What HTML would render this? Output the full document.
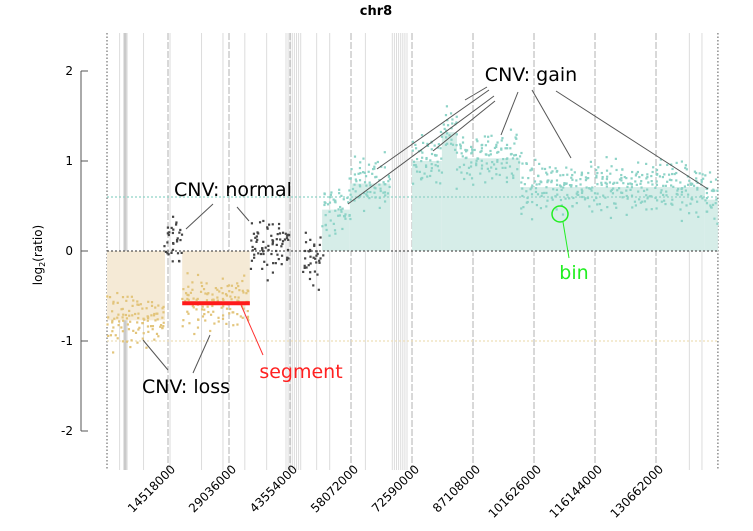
<!DOCTYPE html>
<html><head><meta charset="utf-8"><style>
html,body{margin:0;padding:0;background:#fff;}
svg{display:block;font-family:"DejaVu Sans","Liberation Sans",sans-serif;}
</style></head><body>
<svg id="chart" width="753" height="531" viewBox="0 0 753 531" xmlns="http://www.w3.org/2000/svg">
<text x="376" y="15" text-anchor="middle" font-size="13" font-weight="bold">chr8</text>
<text transform="translate(42,255) rotate(-90)" text-anchor="middle" font-size="12">log<tspan font-size="8" dy="3">2</tspan><tspan dy="-3">(ratio)</tspan></text>
<g id="gaps"></g>
<g id="ticks"></g>
<g id="fills"></g>
<g id="refs"></g>
<g id="points"></g>
<g id="yaxis"></g>
<g id="ann">
 <g stroke="#555" stroke-width="1">
  <line x1="487" y1="87" x2="465" y2="100"/><line x1="489" y1="90" x2="377" y2="169"/>
  <line x1="494" y1="96" x2="348" y2="204"/><line x1="495" y1="101" x2="433" y2="151"/>
  <line x1="518" y1="92" x2="501" y2="135"/><line x1="532" y1="90" x2="571" y2="158"/>
  <line x1="556" y1="91" x2="708" y2="189"/>
  <line x1="213" y1="204" x2="186" y2="229"/><line x1="237" y1="207" x2="249" y2="221"/>
  <line x1="143" y1="340" x2="168" y2="370"/><line x1="210" y1="335" x2="193" y2="373"/>
 </g>
 <text x="531" y="81" text-anchor="middle" font-size="19">CNV: gain</text>
 <text x="233" y="196" text-anchor="middle" font-size="19">CNV: normal</text>
 <text x="186" y="393" text-anchor="middle" font-size="19">CNV: loss</text>
 <line x1="241" y1="305" x2="263" y2="355" stroke="#ff3030" stroke-width="1"/>
 <text x="301" y="378" text-anchor="middle" font-size="19" fill="#ff2020">segment</text>
 <circle cx="560" cy="214" r="8" fill="none" stroke="#22ee22" stroke-width="1.5"/>
 <line x1="563" y1="222" x2="569" y2="258" stroke="#22ee22"/>
 <text x="574" y="279" text-anchor="middle" font-size="19" fill="#22ee22">bin</text>
</g>
</svg>
<script>
// data (Mb and log2 ratio)
const segStart=[0,13.8,17.9,34.0,46.6,51.2,57.8,72.6,79.7,83.3,98.3,142.3];
const segEnd=[13.8,17.9,34.0,43.6,51.2,57.8,67.4,79.7,83.3,98.3,142.3,145.4];
const segValue=[-0.77,0.1,-0.58,0.05,-0.1,0.46,0.75,1.0,1.32,1.03,0.71,0.57];
const segType=["loss","normal","loss","normal","normal","gain","gain","gain","gain","gain","gain","gain"];
const noise=[0.12,-0.08,0.2,-0.15,0.03,0.27,-0.22,0.09,-0.03,0.16,-0.3,0.05,0.22,-0.12,0.0,-0.19,0.14,0.31,-0.06,0.08,-0.25,0.18,-0.01,0.1,-0.14,0.24,-0.09,0.06,-0.35,0.13,0.02,-0.18,0.19,-0.05,0.28,-0.11,0.07,-0.21,0.15,-0.02,0.04,-0.27,0.11,0.21,-0.16];
const gapPos=[3.0,4.4,4.7,8.7,15.0,22.5,27.6,32.8,38.0,42.6,43.1,43.6,44.1,44.6,45.1,45.6,46.1,49.9,53.0,61.5,67.9,68.4,68.9,69.4,69.9,70.4,70.9,71.4,138.6,141.6];
const tickVals=[14518000,29036000,43554000,58072000,72590000,87108000,101626000,116144000,130662000];
const yTicks=[2,1,0,-1,-2];
const xMax=145.4;

const NS="http://www.w3.org/2000/svg";
const X0=107, PX=61/14.518;
const xs=v=>X0+v*PX;
const ys=v=>251-v*90;
function mk(tag,attrs,parent){const e=document.createElementNS(NS,tag);for(const k in attrs)e.setAttribute(k,attrs[k]);parent.appendChild(e);return e;}
const G=id=>document.getElementById(id);
const colors={loss:["#f5ead6","#e2c47a"],gain:["#d6ede8","#8dd3c7"],normal:[null,"#444"]};
gapPos.forEach((g,i)=>{const l=mk("line",{x1:xs(g),x2:xs(g),y1:33,y2:470,stroke:i==1?"#cacaca":"#dcdcdc","stroke-width":i==1?4:1},G("gaps"));

});
tickVals.forEach(t=>{const x=xs(t/1e6);
const l=mk("line",{x1:x,x2:x,y1:33,y2:470,stroke:"#666","stroke-width":0.5,"stroke-dasharray":"7,2"},G("ticks"));


const tx=mk("text",{x:x+8,y:470,"text-anchor":"end","font-size":12,transform:`rotate(-45 ${x+8} 470)`},G("ticks"));
tx.textContent=t;

});
[0,xMax].forEach(b=>{const l=mk("line",{x1:xs(b),x2:xs(b),y1:33,y2:470,stroke:"#555","stroke-dasharray":"1.5,2"},G("ticks"));

});
segStart.forEach((s,i)=>{const c=colors[segType[i]][0];if(!c)return;
const y0=ys(0),y1=ys(segValue[i]);
const r=mk("rect",{x:xs(s),y:Math.min(y0,y1),width:xs(segEnd[i])-xs(s),height:Math.abs(y1-y0),fill:c},G("fills"));

});
[[0,"#555"],[0.6,"#8fd3c6"],[-1,"#eedfb8"]].forEach(([v,c])=>{const l=mk("line",{x1:xs(0),x2:xs(xMax),y1:ys(v),y2:ys(v),stroke:c,"stroke-width":1.2,"stroke-dasharray":"2,2"},G("refs"));

});
let k=0;const L=noise.length;
segStart.forEach((s,i)=>{const c=colors[segType[i]][1];const w=xs(segEnd[i])-xs(s);const n=Math.round(w*1.8);
for(let j=0;j<n;j++){const a=noise[(k+Math.floor(k/L)*17)%L],b=noise[(k*7+Math.floor(k/L)*5+3)%L],d=noise[(k*11+29)%L];
const x=xs(s)+(j+0.5)*w/n+d*6;k++;
const p=mk("rect",{x:x-1,y:ys(segValue[i]+(a+0.5*b)*0.75)-1,width:2.2,height:2.2,fill:c},G("points"));

}});
const rs=mk("line",{x1:xs(segStart[2]),x2:xs(segEnd[2]),y1:ys(segValue[2]),y2:ys(segValue[2]),stroke:"#ff1a1a","stroke-width":4},G("points"));


const ax=mk("line",{x1:81,x2:81,y1:ys(2),y2:ys(-2),stroke:"#555"},G("yaxis"));


yTicks.forEach(v=>{const t=mk("line",{x1:81,x2:88,y1:ys(v),y2:ys(v),stroke:"#555"},G("yaxis"));


const tx=mk("text",{x:73,y:ys(v)+4,"text-anchor":"end","font-size":12},G("yaxis"));tx.textContent=v;

});
</script>
</body></html>
